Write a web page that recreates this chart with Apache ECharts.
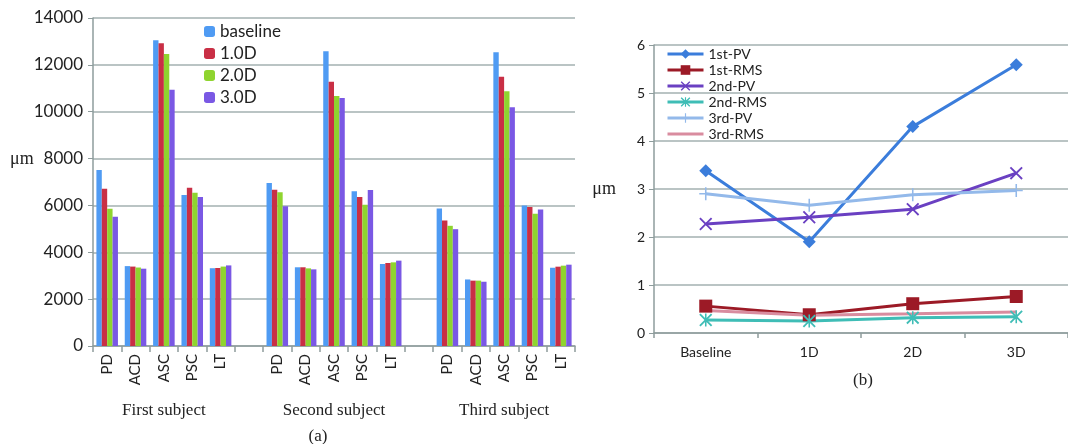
<!DOCTYPE html>
<html>
<head>
<meta charset="utf-8">
<script src="https://cdn.jsdelivr.net/npm/echarts@6/dist/echarts.min.js"></script>
<style>
  html, body { margin: 0; padding: 0; background: #fff; }
  #main { width: 1068px; height: 444px; }
</style>
</head>
<body>
<div id="main"></div>
<script>
// (a) bar chart data: 3 subjects x 5 measures
var measures = ['PD', 'ACD', 'ASC', 'PSC', 'LT'];
var subjects = ['First subject', 'Second subject', 'Third subject'];
var barNames = ['baseline', '1.0D', '2.0D', '3.0D'];
var baseline = [7510, 3410, 13050, 6440, 3320,  6960, 3360, 12580, 6600, 3500,  5870, 2840, 12540, 6000, 3340];
var d10      = [6710, 3390, 12925, 6755, 3330,  6670, 3360, 11280, 6357, 3543,  5357, 2790, 11490, 5930, 3386];
var d20      = [5860, 3350, 12460, 6540, 3390,  6560, 3314, 10670, 6030, 3571,  5130, 2790, 10870, 5643, 3429];
var d30      = [5520, 3300, 10940, 6357, 3440,  5960, 3271, 10590, 6657, 3643,  4986, 2743, 10186, 5829, 3471];
var barTicks = [0, 14000, 2000];

// (b) line chart data
var lineCats = ['Baseline', '1D', '2D', '3D'];
var lineNames = ['1st-PV', '1st-RMS', '2nd-PV', '2nd-RMS', '3rd-PV', '3rd-RMS'];
var pv1  = [3.38, 1.90, 4.30, 5.59];
var rms1 = [0.56, 0.38, 0.61, 0.76];
var pv2  = [2.27, 2.41, 2.58, 3.33];
var rms2 = [0.27, 0.25, 0.32, 0.34];
var pv3  = [2.90, 2.66, 2.88, 2.97];
var rms3 = [0.47, 0.37, 0.40, 0.44];
var lineTicks = [0, 6, 1];

// put an empty slot between subjects
function withGaps(arr, blank) {
    var out = [];
    for (var s = 0; s < subjects.length; s++) {
        if (s > 0) out.push(blank);
        for (var m = 0; m < measures.length; m++) out.push(arr[s * measures.length + m]);
    }
    return out;
}
var barCats = [];
for (var s = 0; s < subjects.length; s++) {
    if (s > 0) barCats.push('');
    barCats = barCats.concat(measures);
}

var sans = 'Lato';
var serif = 'Liberation Serif';
var gridColor = '#a3b0b0';
var axisColor = '#8e9c9c';
var barColors = ['#4f9bf3', '#c92f45', '#8fd42f', '#7a58e4'];
var lineColors = ['#3b7ddb', '#9c1a26', '#6a40c2', '#3fbdb6', '#93b9ea', '#d98c9f'];
var lineSymbols = [
    'diamond',
    'rect',
    'path://M0,1L1,0L5,4L9,0L10,1L6,5L10,9L9,10L5,6L1,10L0,9L4,5Z',
    'path://M0,1L1,0L5,4L9,0L10,1L6,5L10,9L9,10L5,6L1,10L0,9L4,5ZM4.4,0L5.6,0L5.6,10L4.4,10Z',
    'path://M4.4,0L5.6,0L5.6,10L4.4,10ZM0,4.4L10,4.4L10,5.6L0,5.6Z',
    'none'
];
var lineSizes = [13, 13, 13, 13, 13, 0];
var lineData = [pv1, rms1, pv2, rms2, pv3, rms3];
var barData = [baseline, d10, d20, d30];

var myChart = echarts.init(document.getElementById('main'));

var series = [];
for (var i = 0; i < barNames.length; i++) {
    series.push({
        name: barNames[i],
        type: 'bar',
        xAxisIndex: 0,
        yAxisIndex: 0,
        barGap: 0,
        barCategoryGap: '24%',
        itemStyle: { color: barColors[i] },
        data: withGaps(barData[i], '-')
    });
}
for (var j = 0; j < lineNames.length; j++) {
    series.push({
        name: lineNames[j],
        type: 'line',
        xAxisIndex: 1,
        yAxisIndex: 1,
        symbol: lineSymbols[j],
        symbolSize: lineSizes[j],
        showSymbol: true,
        lineStyle: { color: lineColors[j], width: 3 },
        itemStyle: { color: lineColors[j], opacity: lineSymbols[j] === 'none' ? 0 : 1 },
        data: lineData[j]
    });
}

function plain(v) { return String(v); }

var option = {
    animation: false,
    textStyle: { fontFamily: sans },
    legend: [{
        data: barNames,
        orient: 'vertical',
        left: 199,
        top: 18,
        itemWidth: 11,
        itemHeight: 11,
        itemGap: 5,
        textStyle: { fontSize: 17, color: '#222', fontFamily: sans }
    }, {
        data: lineNames,
        orient: 'vertical',
        left: 661,
        top: 42,
        itemWidth: 36,
        itemHeight: 12,
        itemGap: 2,
        lineStyle: { width: 3 },
        textStyle: { fontSize: 14, color: '#222', fontFamily: sans }
    }],
    grid: [
        { left: 93, top: 18, width: 482, height: 328 },
        { left: 654, top: 45, right: -8, height: 288 }
    ],
    xAxis: [{
        gridIndex: 0,
        type: 'category',
        data: barCats,
        axisLine: { lineStyle: { color: axisColor, width: 1.5 } },
        axisTick: { show: true, interval: 0, length: 6, lineStyle: { color: axisColor, width: 1.5 } },
        axisLabel: { interval: 0, rotate: 90, margin: 8, fontSize: 15, color: '#222' }
    }, {
        gridIndex: 1,
        type: 'category',
        data: lineCats,
        axisLine: { lineStyle: { color: axisColor, width: 1.5 } },
        axisTick: { show: true, length: 5, lineStyle: { color: axisColor, width: 1.5 } },
        axisLabel: { margin: 12, fontSize: 14, color: '#222' }
    }],
    yAxis: [{
        gridIndex: 0,
        type: 'value',
        min: barTicks[0],
        max: barTicks[1],
        interval: barTicks[2],
        axisLine: { show: true, lineStyle: { color: axisColor, width: 1.5 } },
        axisTick: { show: true, length: 5, lineStyle: { color: axisColor } },
        axisLabel: { margin: 10, fontSize: 17, color: '#222', formatter: plain },
        splitLine: { lineStyle: { color: gridColor, width: 1.5 } }
    }, {
        gridIndex: 1,
        type: 'value',
        min: lineTicks[0],
        max: lineTicks[1],
        interval: lineTicks[2],
        name: 'μm',
        nameLocation: 'middle',
        nameRotate: 0,
        nameGap: 38,
        nameTextStyle: { fontFamily: serif, fontSize: 18, color: '#222' },
        axisLine: { show: true, lineStyle: { color: axisColor, width: 1.5 } },
        axisTick: { show: true, length: 5, lineStyle: { color: axisColor } },
        axisLabel: { margin: 9, fontSize: 14, color: '#222', formatter: plain },
        splitLine: { lineStyle: { color: gridColor, width: 1.5 } }
    }],
    series: series
};

myChart.setOption(option);

// subject names under each group and panel captions
var graphics = [{
    type: 'text', left: 10, top: 150,
    style: { text: 'μm', font: '18px ' + serif, fill: '#222' }
}];
for (var k = 0; k < subjects.length; k++) {
    var cx = myChart.convertToPixel({ xAxisIndex: 0 }, k * (measures.length + 1) + 2);
    graphics.push({
        type: 'text', x: cx, y: 411,
        style: { text: subjects[k], font: '17px ' + serif, fill: '#222', textAlign: 'center', textVerticalAlign: 'middle' }
    });
}
graphics.push({
    type: 'text', x: 318, y: 437,
    style: { text: '(a)', font: '17px ' + serif, fill: '#222', textAlign: 'center', textVerticalAlign: 'middle' }
});
graphics.push({
    type: 'text', x: 863, y: 381,
    style: { text: '(b)', font: '17px ' + serif, fill: '#222', textAlign: 'center', textVerticalAlign: 'middle' }
});
myChart.setOption({ graphic: graphics });
</script>
</body>
</html>
